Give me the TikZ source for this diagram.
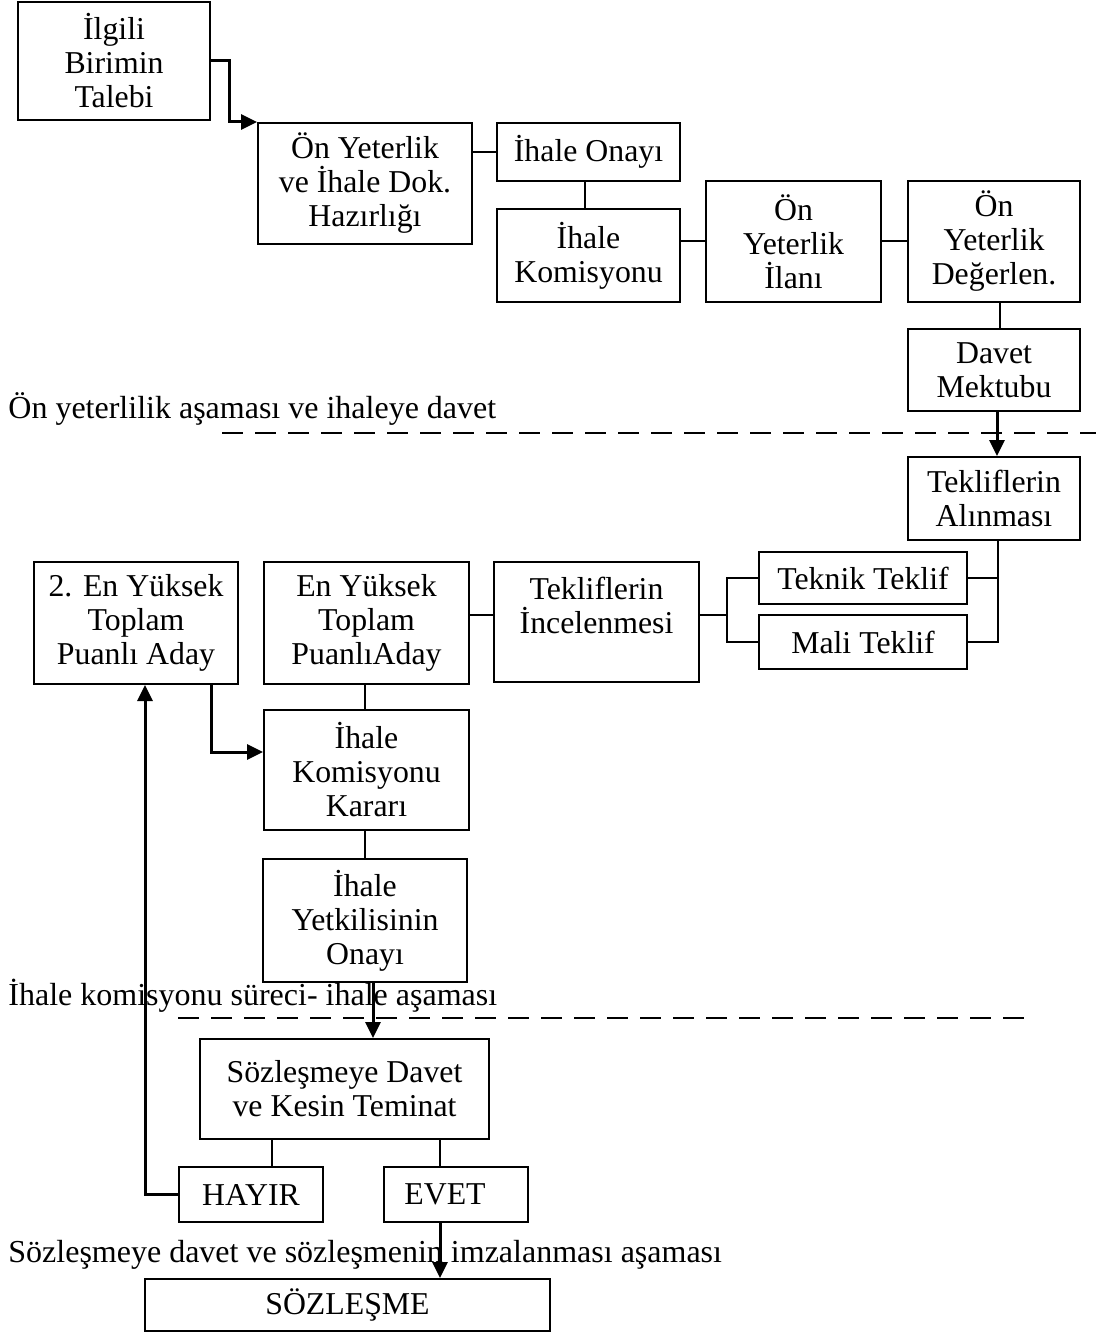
\documentclass[tikz,border=0pt]{standalone}
\usepackage{fontspec}
\setmainfont{Liberation Serif}
\usetikzlibrary{arrows.meta}
\tikzset{
  box/.style={draw, line width=1pt, align=center, inner sep=0pt, font=\fontsize{15.9}{17}\selectfont},
  conn/.style={line width=1pt},
  arr/.style={line width=1.5pt, -{Triangle[length=8pt,width=7.5pt]}},
  sep/.style={line width=1pt, dash pattern=on 10.5pt off 6pt},
  phase/.style={anchor=base west, inner sep=0pt, font=\fontsize{16}{18}\selectfont}
}
\begin{document}
\begin{tikzpicture}[x=0.5pt,y=-0.5pt]
\useasboundingbox (0,0) rectangle (1096,1332);
% phase labels (drawn first, lines pass over them)
\node[phase] (ph1) at (8,418) {Ön yeterlilik aşaması ve ihaleye davet};
\node[phase] (ph2) at (8,1005) {İhale komisyonu süreci- ihale aşaması};
\node[phase] (ph3) at (8,1262) {Sözleşmeye davet ve sözleşmenin imzalanması aşaması};
% dashed separators
\coordinate (s1a) at (222,433); \coordinate (s1b) at (1096,433);
\coordinate (s2a) at (178,1018); \coordinate (s2b) at (1030,1018);
\draw[sep] (s1a) -- (s1b);
\draw[sep] (s2a) -- (s2b);
% boxes
\node[box, minimum width=96pt, minimum height=59pt] (talep) at (114,61) {İlgili\\Birimin\\Talebi};
\node[box, minimum width=107pt, minimum height=60.5pt] (hazir) at (365,183.5) {Ön Yeterlik\\ve İhale Dok.\\Hazırlığı};
\node[box, minimum width=91.5pt, minimum height=29pt] (onay) at (588.5,152) {İhale Onayı};
\node[box, minimum width=91.5pt, minimum height=46.5pt] (komis) at (588.5,255.5) {İhale\\Komisyonu};
\node[box, minimum width=87.5pt, minimum height=60.5pt] (ilan) at (793.5,241.5) {Ön\\Yeterlik\\İlanı};
\node[box, minimum width=86pt, minimum height=60.5pt] (degr) at (994,241.5) {Ön\\Yeterlik\\Değerlen.};
\node[box, minimum width=86pt, minimum height=41pt] (davet) at (994,370) {Davet\\Mektubu};
\node[box, minimum width=86pt, minimum height=41.5pt] (alin) at (994,498.5) {Tekliflerin\\Alınması};
\node[box, minimum width=104pt, minimum height=26pt] (teknik) at (863,578) {Teknik Teklif};
\node[box, minimum width=104pt, minimum height=27pt] (mali) at (863,642) {Mali Teklif};
\node[box, minimum width=102.5pt, minimum height=60pt] (incel) at (596.5,622) {Tekliflerin\\İncelenmesi\\\mbox{}};
\node[box, minimum width=102.5pt, minimum height=61pt] (enyuk) at (366.5,623) {En Yüksek\\Toplam\\PuanlıAday};
\node[box, minimum width=102pt, minimum height=61pt] (enyuk2) at (136,623) {2. En Yüksek\\Toplam\\Puanlı Aday};
\node[box, minimum width=102.5pt, minimum height=60pt] (karar) at (366.5,770) {İhale\\Komisyonu\\Kararı};
\node[box, minimum width=102pt, minimum height=61.5pt] (yetki) at (365,920.5) {İhale\\Yetkilisinin\\Onayı};
\node[box, minimum width=144.5pt, minimum height=50pt] (sozdavet) at (344.5,1089) {Sözleşmeye Davet\\ve Kesin Teminat};
\node[box, minimum width=72pt, minimum height=27.5pt] (hayir) at (251,1194.5) {HAYIR};
\node[box, minimum width=72pt, minimum height=27.5pt] (evet) at (456,1194.5) {EVET\hspace*{11pt}};
\node[box, minimum width=202.5pt, minimum height=26pt] (sozlesme) at (347.5,1305) {SÖZLEŞME};
% connectors
\draw[arr] (talep.east) -- ++(18,0) |- (hazir.north west);
\draw[conn] (onay.west) -- (onay.west -| hazir.east);
\draw[conn] ([xshift=-2pt]onay.south) -- ([xshift=-2pt]komis.north);
\draw[conn] (ilan.west) -- (ilan.west -| komis.east);
\draw[conn] (degr.west) -- (ilan.east);
\draw[conn] ([xshift=3pt]degr.south) -- ([xshift=3pt]davet.north);
\draw[arr] ([xshift=1.5pt]davet.south) -- ([xshift=1.5pt]alin.north);
\coordinate (rv) at ([xshift=2pt]alin.south);
\draw[conn] (rv) |- (mali.east);
\draw[conn] (teknik.east) -- (teknik.east -| rv);
\coordinate (brk) at (727,615);
\draw[conn] (teknik.west) -| (brk) |- (mali.west);
\draw[conn] (incel.east |- brk) -- (brk);
\draw[conn] (enyuk.east |- brk) -- (incel.west |- brk);
\draw[conn] ([xshift=-1pt]enyuk.south) -- ([xshift=-1pt]karar.north);
\draw[arr] ([xshift=37.5pt]enyuk2.south) |- ([yshift=9pt]karar.west);
\draw[conn] ([xshift=-1pt]karar.south) -- ([xshift=-1pt]karar.south |- yetki.north);
\draw[arr] ([xshift=4pt]yetki.south) -- ([xshift=4pt]yetki.south |- sozdavet.north);
\draw[conn] ([xshift=10.5pt]hayir.north) -- ([xshift=10.5pt]hayir.north |- sozdavet.south);
\draw[conn] ([xshift=-8pt]evet.north) -- ([xshift=-8pt]evet.north |- sozdavet.south);
\draw[arr] ([xshift=-8pt]evet.south) -- ([xshift=-8pt]evet.south |- sozlesme.north);
\draw[arr] (hayir.west) -| ([xshift=4.5pt]enyuk2.south);
\end{tikzpicture}
\end{document}
